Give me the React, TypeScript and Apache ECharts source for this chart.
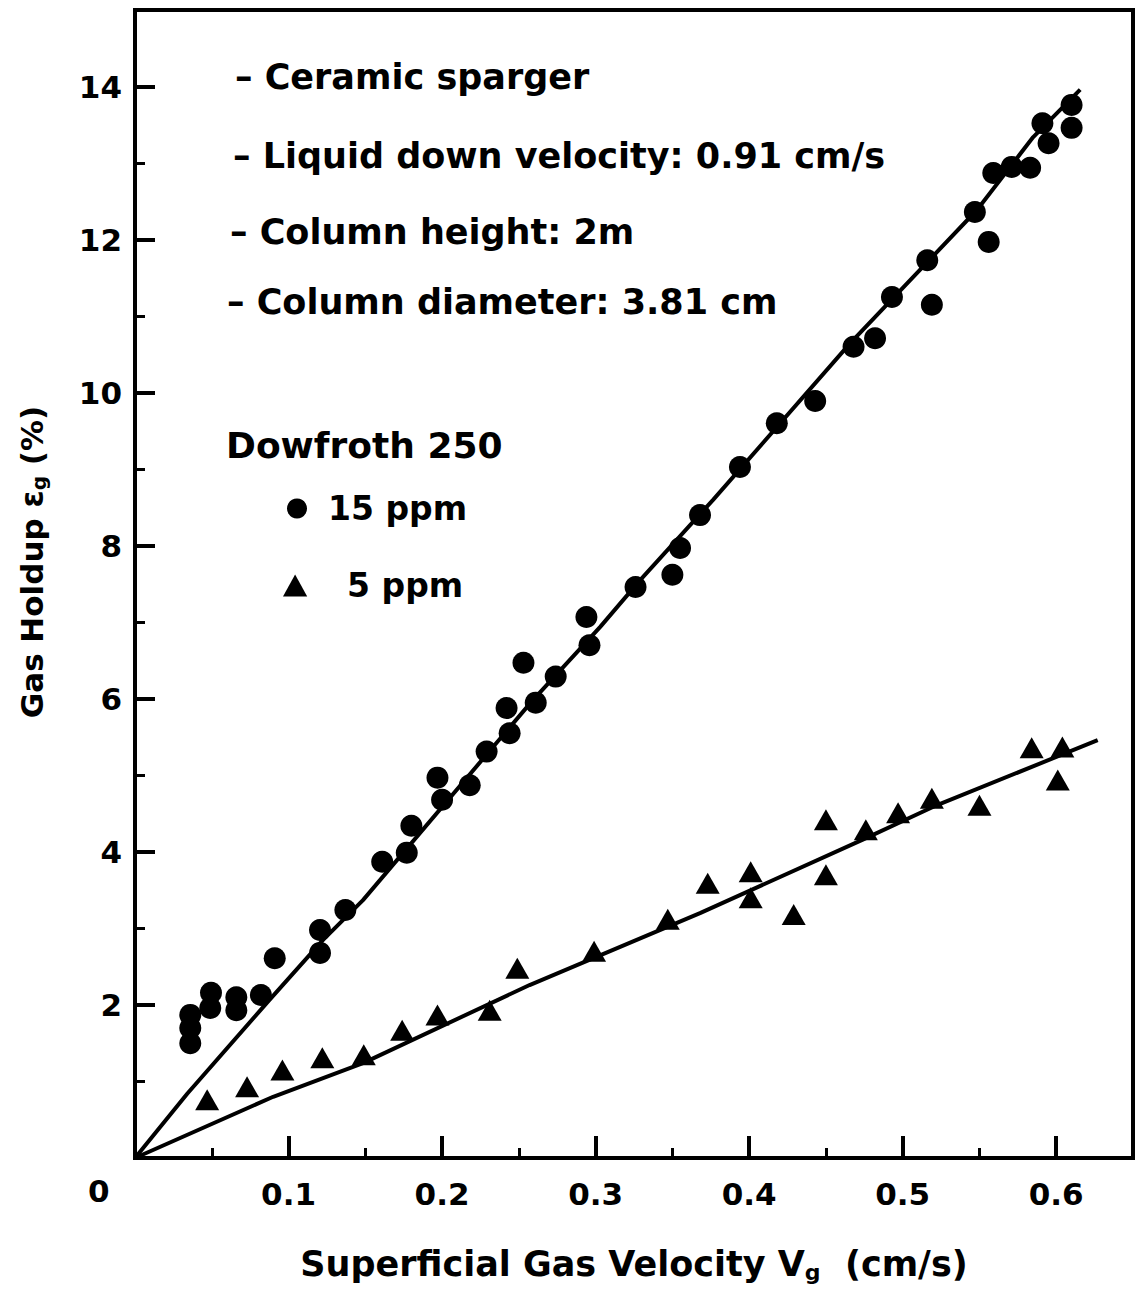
import React, { useEffect, useRef } from 'react';
import * as echarts from 'echarts';

const FONT = '"DejaVu Sans", "Liberation Sans", sans-serif';

// Dowfroth 250, 15 ppm (circles)
const ppm15X = [0.036, 0.036, 0.036, 0.0495, 0.049, 0.066, 0.066, 0.082, 0.091, 0.1205, 0.1205, 0.137,
  0.161, 0.177, 0.18, 0.197, 0.2, 0.218, 0.229, 0.242, 0.244, 0.253, 0.261, 0.274, 0.294, 0.296,
  0.326, 0.35, 0.355, 0.368, 0.394, 0.418, 0.443, 0.468, 0.482, 0.493, 0.519, 0.516, 0.547, 0.556,
  0.559, 0.571, 0.583, 0.591, 0.595, 0.61, 0.61];
const ppm15Y = [1.87, 1.70, 1.50, 2.16, 1.96, 2.10, 1.93, 2.13, 2.61, 2.68, 2.98, 3.24,
  3.87, 3.99, 4.34, 4.97, 4.68, 4.87, 5.31, 5.88, 5.55, 6.47, 5.95, 6.29, 7.07, 6.70,
  7.46, 7.62, 7.97, 8.40, 9.03, 9.60, 9.89, 10.60, 10.71, 11.25, 11.15, 11.73, 12.36, 11.97,
  12.87, 12.95, 12.94, 13.52, 13.26, 13.76, 13.46];

// Dowfroth 250, 5 ppm (triangles)
const ppm5X = [0.047, 0.073, 0.096, 0.122, 0.149, 0.174, 0.197, 0.231, 0.249, 0.299, 0.347, 0.373,
  0.401, 0.401, 0.429, 0.45, 0.45, 0.476, 0.497, 0.519, 0.55, 0.584, 0.601, 0.604];
const ppm5Y = [0.76, 0.93, 1.15, 1.31, 1.35, 1.67, 1.87, 1.93, 2.48, 2.70, 3.12, 3.59,
  3.74, 3.40, 3.18, 3.70, 4.42, 4.29, 4.51, 4.70, 4.61, 5.36, 4.94, 5.37];

// drawn trend curves
const fit15X = [0, 0.034, 0.086, 0.1225, 0.1485, 0.259, 0.303, 0.329, 0.3765, 0.466, 0.5485, 0.585, 0.6156];
const fit15Y = [0, 0.84, 2.03, 2.85, 3.37, 5.98, 6.94, 7.55, 8.60, 10.65, 12.39, 13.34, 13.96];
const fit5X = [0, 0.09, 0.1485, 0.257, 0.368, 0.474, 0.52, 0.627];
const fit5Y = [0, 0.80, 1.24, 2.26, 3.20, 4.16, 4.59, 5.46];

const xTickLabels = [0.1, 0.2, 0.3, 0.4, 0.5, 0.6];
const xMinorTicks = [0.05, 0.15, 0.25, 0.35, 0.45, 0.55];
const yTickLabels = [2, 4, 6, 8, 10, 12, 14];
const yMinorTicks = [1, 3, 5, 7, 9, 11, 13];
const originLabel = '0';

const seriesNames = ['15 ppm', '5 ppm'];
const legendTitle = 'Dowfroth 250';
const notes = [
  '– Ceramic sparger',
  '– Liquid down velocity: 0.91 cm/s',
  '– Column height: 2m',
  '– Column diameter: 3.81 cm',
];
const notePos = [[235, 79], [233, 158], [230, 234], [227, 304]];

const zip = (xs: number[], ys: number[]) => xs.map((x, i) => [x, ys[i]]);

export default function App() {
  const ref = useRef<HTMLDivElement>(null);
  useEffect(() => {
    if (!ref.current) return;
    const chart = echarts.init(ref.current, null, { renderer: 'svg' });
    const black = '#000';
    const txt = { fontFamily: FONT, fontWeight: 'bold' as const, color: black };
    const baseX = { type: 'value', min: 0, max: 0.65, gridIndex: 0, splitLine: { show: false } };
    const baseY = { type: 'value', min: 0, max: 15, gridIndex: 0, splitLine: { show: false } };
    const option: any = {
      animation: false,
      backgroundColor: '#fff',
      grid: { left: 135, right: 5, top: 10, bottom: 132, show: true, borderColor: black, borderWidth: 4 },
      xAxis: [
        {
          ...baseX,
          position: 'bottom',
          axisLine: { show: true, lineStyle: { color: black, width: 4 } },
          axisTick: { show: true, inside: true, length: 22, lineStyle: { color: black, width: 4 }, customValues: xTickLabels },
          axisLabel: { ...txt, fontSize: 31, margin: 20, customValues: xTickLabels, formatter: (v: number) => v.toFixed(1) },
          name: '{t|Superficial Gas Velocity V}{s|g}{t|  (cm/s)}',
          nameLocation: 'middle',
          nameGap: 87,
          nameTextStyle: {
            rich: {
              t: { ...txt, fontSize: 35 },
              s: { ...txt, fontSize: 22, padding: [16, 0, 0, 0] },
            },
          },
        },
        {
          ...baseX,
          position: 'bottom',
          axisLine: { show: false },
          axisTick: { show: true, inside: true, length: 10, lineStyle: { color: black, width: 3 }, customValues: xMinorTicks },
          axisLabel: { show: false },
        },
      ],
      yAxis: [
        {
          ...baseY,
          position: 'left',
          axisLine: { show: true, lineStyle: { color: black, width: 4 } },
          axisTick: { show: true, inside: true, length: 20, lineStyle: { color: black, width: 4 }, customValues: yTickLabels },
          axisLabel: { ...txt, fontSize: 31, margin: 13, customValues: yTickLabels },
          name: '{t|Gas Holdup ε}{s|g}{t| (%)}',
          nameLocation: 'middle',
          nameGap: 86,
          nameTextStyle: {
            padding: [0, 0, 0, 44],
            rich: {
              t: { ...txt, fontSize: 31 },
              s: { ...txt, fontSize: 20, padding: [14, 0, 0, 0] },
            },
          },
        },
        {
          ...baseY,
          position: 'left',
          axisLine: { show: false },
          axisTick: { show: true, inside: true, length: 10, lineStyle: { color: black, width: 3 }, customValues: yMinorTicks },
          axisLabel: { show: false },
        },
      ],
      legend: [
        {
          data: [{ name: seriesNames[0], icon: 'circle' }],
          left: 287, top: 492, padding: 0, orient: 'vertical',
          itemWidth: 52, itemHeight: 20, selectedMode: false,
          itemStyle: { opacity: 1 },
          textStyle: { ...txt, fontSize: 33 },
        },
        {
          data: [{ name: seriesNames[1], icon: 'path://M11,0L22,20L0,20Z' }],
          left: 283, top: 569, padding: 0, orient: 'vertical',
          itemWidth: 94, itemHeight: 22, symbolKeepAspect: true, selectedMode: false,
          itemStyle: { opacity: 1 },
          textStyle: { ...txt, fontSize: 33 },
        },
      ],
      graphic: [
        ...notes.map((n, i) => ({
          type: 'text', left: notePos[i][0], top: notePos[i][1] - 20,
          style: { text: n, font: `bold 35px ${FONT}`, fill: black },
        })),
        {
          type: 'text', left: 226, top: 427,
          style: { text: legendTitle, font: `bold 36px ${FONT}`, fill: black },
        },
        {
          type: 'text', left: 88, top: 1175,
          style: { text: originLabel, font: `bold 31px ${FONT}`, fill: black },
        },
      ],
      series: [
        {
          name: seriesNames[0], type: 'scatter', xAxisIndex: 0, yAxisIndex: 0,
          symbol: 'circle', symbolSize: 22, itemStyle: { color: black, opacity: 1 },
          data: zip(ppm15X, ppm15Y),
        },
        {
          name: seriesNames[1], type: 'scatter', xAxisIndex: 0, yAxisIndex: 0,
          symbol: 'triangle', symbolSize: [24, 21], itemStyle: { color: black, opacity: 1 },
          data: zip(ppm5X, ppm5Y),
        },
        {
          name: 'fit15', type: 'line', xAxisIndex: 0, yAxisIndex: 0, symbol: 'none', smooth: false,
          lineStyle: { color: black, width: 4 }, data: zip(fit15X, fit15Y),
        },
        {
          name: 'fit5', type: 'line', xAxisIndex: 0, yAxisIndex: 0, symbol: 'none', smooth: false,
          lineStyle: { color: black, width: 4 }, data: zip(fit5X, fit5Y),
        },
      ],
    };
    chart.setOption(option);
    return () => chart.dispose();
  }, []);
  return <div ref={ref} style={{ position: 'absolute', left: 0, top: 0, width: 1138, height: 1290 }} />;
}
